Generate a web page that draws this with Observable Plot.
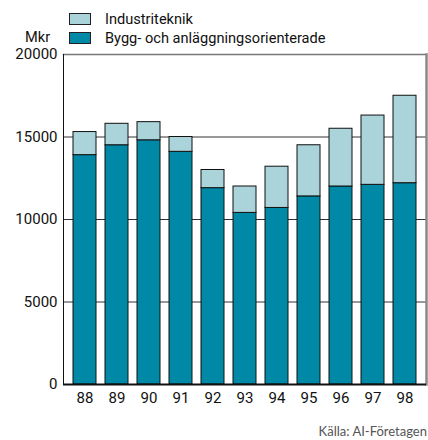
<!DOCTYPE html>
<html><head><meta charset="utf-8">
<script src="https://cdn.jsdelivr.net/npm/d3@7"></script>
<script src="https://cdn.jsdelivr.net/npm/@observablehq/plot@0.6"></script>
<style>
body{margin:0;background:#fff;}
#wrap{position:relative;width:428px;height:440px;overflow:hidden;font-family:Roboto,"Liberation Sans",sans-serif;}
.lg{position:absolute;font-size:14.6px;color:#111;white-space:nowrap;line-height:1;}
.sw{position:absolute;width:20px;height:10px;border:1px solid #222;}
#cap{position:absolute;right:1px;top:424px;font-family:Lato,sans-serif;font-size:13px;color:#555;line-height:1.1;}
</style></head>
<body><div id="wrap"></div>
<script>
const years = ["88","89","90","91","92","93","94","95","96","97","98"];
const bygg = [13900,14500,14800,14100,11900,10400,10700,11400,12000,12100,12200];
const industri = [1400,1300,1100,900,1100,1600,2500,3100,3500,4200,5300];
const seriesNames = ["Bygg- och anläggningsorienterade","Industriteknik"];
const seriesColors = ["#0089a7","#aad3da"];
const yTicks = [0,5000,10000,15000,20000];
const gridTicks = [5000,10000,15000];

const data = [];
years.forEach((y,i)=>{
  data.push({year:y, series:seriesNames[0], value:bygg[i]});
  data.push({year:y, series:seriesNames[1], value:industri[i]});
});

const chart = Plot.plot({
  width:428, height:440,
  marginTop:54, marginBottom:56, marginLeft:63, marginRight:2,
  style:{fontFamily:"Roboto, 'Liberation Sans', sans-serif", fontSize:"15px", color:"#111", background:"#fff"},
  x:{domain:years, paddingInner:0.27, paddingOuter:0.136, label:null, tickSize:0, tickPadding:8},
  y:{domain:[0,20000], ticks:yTicks, label:null, tickSize:0, tickPadding:6, tickFormat:d=>String(d)},
  color:{domain:seriesNames, range:seriesColors},
  marks:[
    Plot.ruleY(gridTicks,{stroke:"#333", strokeWidth:1}),
    Plot.frame({anchor:"top", stroke:"#777", strokeWidth:1.5}),
    Plot.frame({anchor:"right", stroke:"#888", strokeWidth:2.5}),
    Plot.frame({anchor:"left", stroke:"#111", strokeWidth:1}),
    Plot.barY(data, Plot.stackY({x:"year", y:"value", fill:"series", order:seriesNames, stroke:"#111", strokeWidth:1})),
    Plot.ruleY([0],{stroke:"#111", strokeWidth:2})
  ]
});
const wrap = document.getElementById("wrap");
wrap.appendChild(chart);

function addSw(top,color){const d=document.createElement("div");d.className="sw";d.style.left="69px";d.style.top=top+"px";d.style.background=color;wrap.appendChild(d);}
function addTxt(left,top,t){const d=document.createElement("div");d.className="lg";d.style.left=left+"px";d.style.top=top+"px";d.textContent=t;wrap.appendChild(d);}
addSw(13,seriesColors[1]);
addSw(32,seriesColors[0]);
addTxt(105,12,seriesNames[1]);
addTxt(105,31,seriesNames[0]);
addTxt(25,30,"Mkr");
const cap=document.createElement("div");cap.id="cap";cap.textContent="Källa: AI-Företagen";wrap.appendChild(cap);
</script></body></html>
